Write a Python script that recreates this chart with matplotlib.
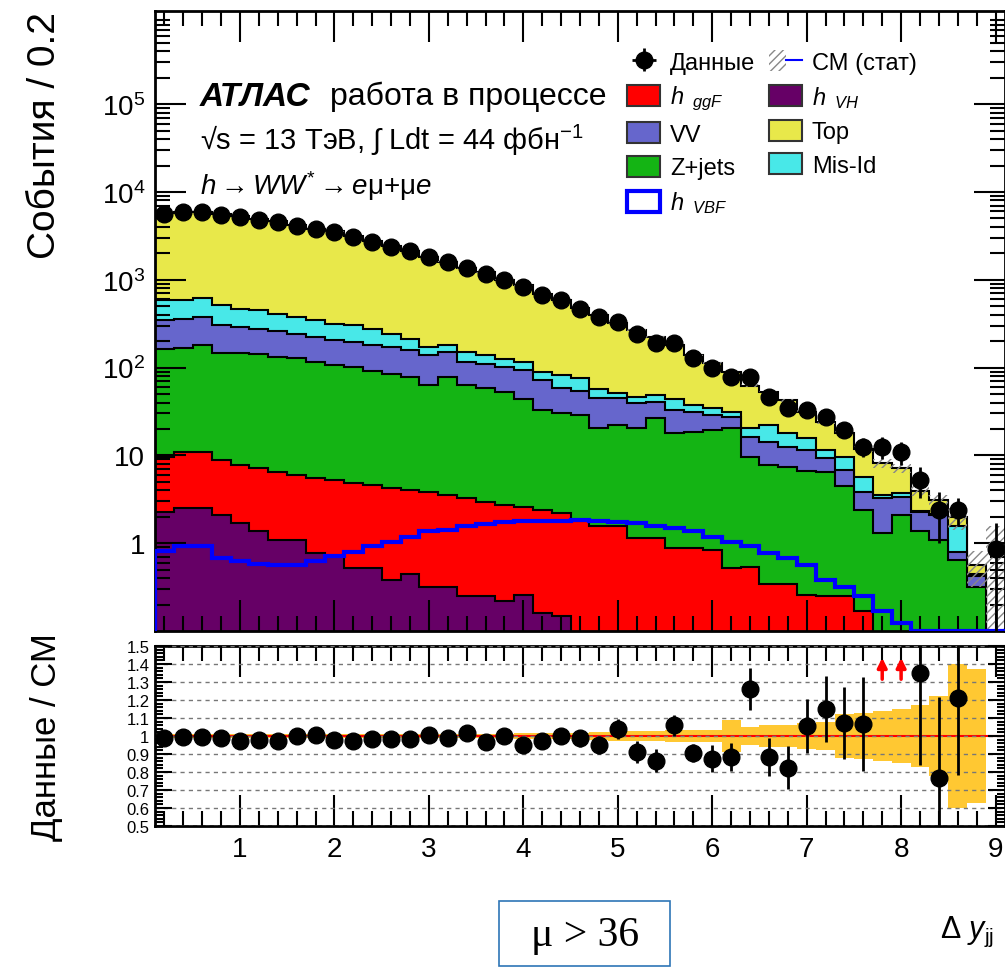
import numpy as np
import matplotlib
matplotlib.use('Agg')
import matplotlib.pyplot as plt
from matplotlib.patches import Patch, Rectangle
from matplotlib.lines import Line2D
from matplotlib.legend_handler import HandlerTuple
from matplotlib.ticker import MultipleLocator, LogLocator, NullFormatter

plt.rcParams['font.family'] = ['Liberation Sans', 'DejaVu Sans']
plt.rcParams['mathtext.fontset'] = 'custom'
plt.rcParams['mathtext.rm'] = 'Liberation Sans'
plt.rcParams['mathtext.it'] = 'Liberation Sans:italic'
plt.rcParams['mathtext.bf'] = 'Liberation Sans:bold'
plt.rcParams['hatch.linewidth'] = 1.0

# 45 bins of width 0.2
edges = np.round(0.1 + 0.2*np.arange(46), 2)
centers = 0.5*(edges[1:] + edges[:-1])

data = [5620, 5870, 5870, 5520, 5160, 4840, 4530, 4140, 3800, 3480, 3060, 2720, 2390, 2100, 1810,
        1590, 1370, 1170, 1000, 826, 676, 582, 468, 377, 331, 243, 192, 192, 127, 99,
        78, 78, 46, 35, 33, 27.5, 19.4, 12.6, 12.6, 11, 5.3, 2.4, 2.4, 0, 0.86]
data_err = [75, 77, 77, 74, 72, 70, 67, 64, 62, 59, 55, 52, 49, 46, 43,
            40, 37, 34, 32, 29, 26, 24, 22, 20, 17.5, 16, 14.4, 10.9, 7.3, 8.4,
            6.9, 7.2, 5.5, 5.1, 4.7, 4.4, 3.6, 3.1, 3.5, 3.3, 2.0, 1.4, 0.85, 0, 0.85]

vh = [2.29, 2.5, 2.5, 2.1, 1.69, 1.36, 1.09, 1.09, 0.77, 0.71, 0.52, 0.52, 0.38, 0.44, 0.32,
      0.32, 0.25, 0.25, 0.22, 0.26, 0.16, 0.15, 0.05, 0.05, 0.04, 0.04, 0.03, 0.03, 0.03, 0.02,
      0.02, 0.02, 0.02, 0.01, 0.01, 0.01, 0.01, 0.01, 0, 0, 0, 0, 0, 0, 0]
ggf = [7.41, 8.5, 8.5, 6.75, 6.07, 5.74, 5.44, 4.88, 4.71, 4.53, 4.29, 4.08, 3.84, 3.59, 3.55,
       3.22, 3.0, 2.73, 2.5, 2.35, 2.23, 2.04, 1.75, 1.5, 1.51, 1.1, 1.11, 0.85, 0.85, 0.82,
       0.5, 0.52, 0.32, 0.33, 0.25, 0.24, 0.24, 0.157, 0.05, 0.04, 0.03, 0.03, 0.02, 0.01, 0]
zjets = [154, 157, 168, 139, 140, 137, 125, 121, 110, 101, 97, 88, 81, 74, 59,
         74.5, 60, 55, 50, 41, 30.6, 27.8, 26.9, 18.8, 20.6, 19.2, 25.2, 16.9, 17.7, 18.6,
         19.8, 9.1, 7.4, 7.1, 6.3, 6.3, 4.2, 2.2, 1.25, 2.06, 1.33, 1.06, 0.63, 0.31, 0]
vv = [181, 193, 198, 160, 142, 133, 127, 116, 107, 98, 94, 86, 87, 79, 75,
      73, 53, 53, 49, 49, 39, 28, 25.3, 24.1, 22.3, 18.7, 14.5, 14.9, 12.8, 9.3,
      7.2, 6.6, 6.5, 5.1, 5.0, 2.7, 2.4, 1.5, 1.95, 1.29, 0.93, 1.01, 0.15, 0.1, 0]
misid = [237, 221, 243, 202, 178, 171, 152, 134, 122, 112, 107, 98, 71, 57, 34,
         28, 35, 27, 25, 23, 17, 24, 22, 13.3, 6.3, 7.4, 7.7, 11.7, 5.9, 5.5,
         3.9, 4.0, 7.8, 5.3, 4.1, 2.25, 2.86, 1.86, 0.29, 0.31, 0.06, 0.05, 0.75, 0.03, 0]
top = [5108, 5328, 5290, 5080, 4832, 4492, 4239, 3773, 3435, 3244, 2837, 2493, 2187, 1916, 1628,
       1431, 1199, 1072, 873, 753, 605, 501, 398, 340, 268, 220, 174, 137, 103, 79,
       57, 41.6, 30.1, 24.6, 15.6, 12.4, 8.4, 6.1, 4.56, 3.4, 1.58, 0.97, 0.43, 0.12, 0]
vbf = [0.82, 0.94, 0.94, 0.68, 0.62, 0.58, 0.57, 0.57, 0.62, 0.71, 0.80, 0.92, 1.04, 1.19, 1.36,
       1.42, 1.55, 1.64, 1.73, 1.79, 1.79, 1.79, 1.82, 1.81, 1.76, 1.69, 1.55, 1.48, 1.36, 1.19,
       1.04, 0.92, 0.77, 0.68, 0.57, 0.38, 0.32, 0.25, 0.167, 0.123, 0, 0, 0, 0, 0]
mc_stat = [40, 40, 40, 40, 38, 36, 35, 32, 30, 29, 26, 24, 22, 20, 18,
           17, 15, 14, 12, 11, 9.5, 8.5, 7.5, 7, 6, 5.5, 5, 4.6, 4, 3.5,
           3.0, 2.4, 2.1, 1.8, 1.4, 1.2, 1.0, 0.9, 0.9, 0.8, 0.5, 0.45, 0.55, 0.25, 1.56]
syst_rel = [0.012, 0.01, 0.01, 0.01, 0.01, 0.01, 0.01, 0.01, 0.01, 0.01, 0.01, 0.01, 0.01, 0.01, 0.01,
            0.012, 0.012, 0.012, 0.012, 0.014, 0.014, 0.015, 0.015, 0.02, 0.025, 0.03, 0.03, 0.032, 0.035, 0.035,
            0.088, 0.05, 0.06, 0.06, 0.07, 0.08, 0.12, 0.13, 0.14, 0.15, 0.17, 0.22, 0.40, 0.37, 0]

ytick_vals = [1, 10, 100, 1e3, 1e4, 1e5]
ytick_labels = ['1', '10', '$10^{2}$', '$10^{3}$', '$10^{4}$', '$10^{5}$']
rtick_vals = [1.5, 1.4, 1.3, 1.2, 1.1, 1.0, 0.9, 0.8, 0.7, 0.6, 0.5]
rtick_labels = ['1.5', '1.4', '1.3', '1.2', '1.1', '1', '0.9', '0.8', '0.7', '0.6', '0.5']

comp_names = [r'$h_{\ \ ggF}$', 'VV', 'Z+jets', r'$h_{\ \ VH}$', 'Top', 'Mis-Id']
comps = [vh, ggf, zjets, vv, misid, top]
comp_colors = ['#660066', '#FF0000', '#14B414', '#6666CC', '#48E8E8', '#E8E84A']

W, H = 1005, 970
fig = plt.figure(figsize=(W/100, H/100), dpi=100)
ax = fig.add_axes([155/W, 1-632/H, 850/W, 620/H])
rax = fig.add_axes([155/W, 1-827/H, 850/W, 180/H])

cum = np.cumsum(np.array(comps, dtype=float), axis=0)
total = cum[-1]
for k in range(len(comps)-1, -1, -1):
    ax.stairs(np.maximum(cum[k], 1e-3), edges, baseline=1e-3, fill=True,
              facecolor=comp_colors[k], edgecolor='black', lw=1.5, zorder=1)

stat = np.array(mc_stat)
lo = np.maximum(total - stat, 1e-3)
hi = total + stat
ax.bar(centers, hi - lo, bottom=lo, width=0.2, fill=False, hatch='////',
       edgecolor='#888888', lw=0, zorder=2)

ax.stairs(np.maximum(vbf, 0.101), edges, color='#0000FF', lw=3, zorder=3)

d = np.array(data, dtype=float)
de = np.array(data_err, dtype=float)
m = d > 0
ax.errorbar(centers[m], d[m], yerr=de[m], fmt='o', color='black', ms=12,
            elinewidth=2, capsize=0, zorder=5)

ax.set_yscale('log')
ax.set_xlim(0.1, 9.1)
ax.set_ylim(0.1, 1.15e6)
ax.set_yticks(ytick_vals)
ax.set_yticklabels(ytick_labels)
ax.yaxis.set_minor_locator(LogLocator(base=10, subs=np.arange(2, 10)*1.0, numticks=20))
ax.yaxis.set_minor_formatter(NullFormatter())
ax.xaxis.set_major_locator(MultipleLocator(1))
ax.xaxis.set_minor_locator(MultipleLocator(0.2))
ax.tick_params(axis='x', labelbottom=False)

for a in (ax, rax):
    a.tick_params(which='major', direction='in', length=22, width=1.5, top=True, right=True,
                  labelsize=20, pad=7)
    a.tick_params(which='minor', direction='in', length=11, width=1.5, top=True, right=True)
    for s in a.spines.values():
        s.set_linewidth(2)

ax.set_ylabel('События / 0.2', fontsize=28, loc='top')

# ratio panel
ok = (total > 0) & (d > 0)
ratio = np.full_like(d, np.nan)
ratio[ok] = d[ok] / total[ok]
rerr = np.zeros_like(d)
rerr[ok] = de[ok] / total[ok]

srel = np.array(syst_rel)
rax.bar(centers, 2*srel, bottom=1 - srel, width=0.2, color='#FFC832', lw=0, zorder=1)
rax.axhline(1.0, color='red', lw=1.5, zorder=2)
inr = ok & (ratio <= 1.5)
rax.errorbar(centers[inr], ratio[inr], yerr=rerr[inr], fmt='o', color='black', ms=12,
             elinewidth=2, capsize=0, zorder=5, clip_on=True)
for xc in centers[ok & (ratio > 1.5)]:
    rax.annotate('', xy=(xc, 1.45), xytext=(xc, 1.30),
                 arrowprops=dict(arrowstyle='-|>', color='red', lw=2.5, mutation_scale=14))

rax.set_xlim(0.1, 9.1)
rax.set_ylim(0.5, 1.5)
rax.set_yticks(rtick_vals)
rax.set_yticklabels(rtick_labels)
rax.yaxis.set_minor_locator(MultipleLocator(0.02))
rax.xaxis.set_major_locator(MultipleLocator(1))
rax.xaxis.set_minor_locator(MultipleLocator(0.2))
rax.yaxis.grid(True, ls=(0, (3, 3)), color='#777777', lw=1)
rax.set_axisbelow(False)
rax.tick_params(axis='y', which='major', length=12, pad=4, labelsize=12)
rax.tick_params(axis='y', which='minor', length=6)
rax.set_ylabel('Данные / СМ', fontsize=25)
rax.yaxis.set_label_coords(-0.108, 0.5)
ax.yaxis.set_label_coords(-0.108, 1.0)

# labels
fig.text(200/W, 1-97/H, 'АТЛАС', fontsize=24, fontweight='bold', fontstyle='italic', va='center')
fig.text(330/W, 1-97/H, 'работа в процессе', fontsize=23, va='center')
fig.text(200/W, 1-140/H, r'√s = 13 ТэВ, ∫ Ldt = 44 фбн$^{\mathregular{-1}}$', fontsize=21, va='center')
fig.text(200/W, 1-186/H, r'$h \rightarrow WW^{*} \rightarrow e$μ+μ$e$', fontsize=20, va='center')

h_data = ax.errorbar([], [], yerr=[], xerr=[], fmt='o', color='black', ms=12, elinewidth=2, capsize=0)
h_sm = (Patch(facecolor='none', edgecolor='#888888', hatch='////', lw=0),
        Line2D([], [], color='#0000FF', lw=1.5))
handles = [h_data,
           Patch(facecolor=comp_colors[1], edgecolor='#333333', lw=1.5),
           Patch(facecolor=comp_colors[3], edgecolor='#333333', lw=1.5),
           Patch(facecolor=comp_colors[2], edgecolor='#333333', lw=1.5),
           Patch(facecolor='white', edgecolor='#0000FF', lw=3),
           h_sm,
           Patch(facecolor=comp_colors[0], edgecolor='#333333', lw=1.5),
           Patch(facecolor=comp_colors[5], edgecolor='#333333', lw=1.5),
           Patch(facecolor=comp_colors[4], edgecolor='#333333', lw=1.5)]
labels = ['Данные', comp_names[0], comp_names[1], comp_names[2], r'$h_{\ \ VBF}$',
          'СМ (стат)', comp_names[3], comp_names[4], comp_names[5]]
ax.legend(handles, labels, ncol=2, loc='upper left', bbox_to_anchor=(606/W, 1-30/H),
          bbox_transform=fig.transFigure, frameon=False, fontsize=17,
          handlelength=1.4, handleheight=1.0, handletextpad=0.4, labelspacing=0.42,
          columnspacing=0.6, handler_map={tuple: HandlerTuple(ndivide=None, pad=0)})

fig.patches.append(Rectangle((499/W, 1-967/H), 171/W, 65/H, transform=fig.transFigure,
                             fill=False, edgecolor='#2E75B6', lw=1.2))
fig.text(585/W, 1-936/H, 'μ > 36', fontsize=30, family=['Liberation Serif', 'DejaVu Serif'],
         ha='center', va='center')
fig.text(940/W, 1-932/H, r'$\Delta\ y_{\mathrm{jj}}$', fontsize=22, va='center')

fig.savefig('out.png', dpi=100)
